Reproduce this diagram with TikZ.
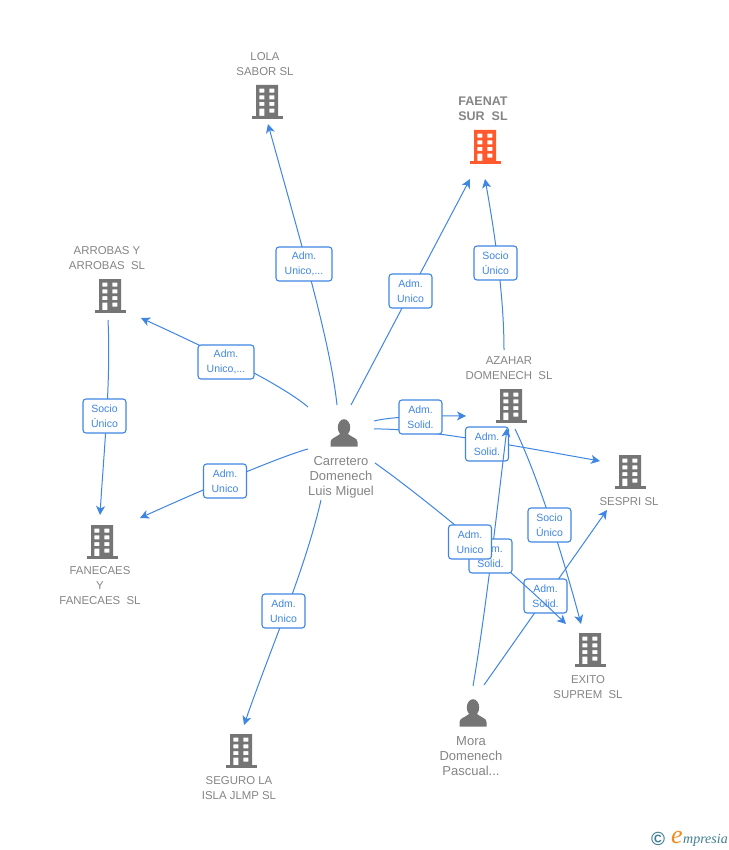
\documentclass[tikz,border=0pt]{standalone}
\usepackage{fontspec}
\setmainfont{Liberation Sans}
\newfontfamily\logofont{Liberation Serif}
\usetikzlibrary{arrows.meta,calc}
\definecolor{linkblue}{HTML}{3F86E3}
\definecolor{iconSlate}{HTML}{757575}
\definecolor{iconOrange}{HTML}{FF5A2D}
\definecolor{labelGray}{HTML}{858585}
\definecolor{logoTeal}{HTML}{3F7F93}
\definecolor{logoOrange}{HTML}{F08A1E}
\tikzset{
  link/.style={draw=linkblue,line width=1pt,-{Stealth[length=9pt,width=9pt,inset=2.5pt]}},
  tag/.style={draw=linkblue,line width=1.1pt,fill=white,rounded corners=3pt,minimum height=34pt,minimum width=43pt,inner sep=0pt,align=center,text=linkblue,font=\fontsize{10.5}{15}\selectfont},
  widetag/.style={tag,minimum width=56pt},
  iconspot/.style={inner sep=0pt,minimum width=31pt,minimum height=34pt},
  company/.style={align=center,text=labelGray,inner sep=0pt,font=\fontsize{11.4}{15}\selectfont},
  companybold/.style={align=center,text=labelGray,inner sep=0pt,font=\fontsize{12.5}{15}\selectfont\bfseries},
  personname/.style={align=center,text=labelGray,inner sep=0pt,font=\fontsize{13}{15}\selectfont},
  pics/bldicon/.style={code={
    \fill[#1,even odd rule]
      (-11,-17) rectangle (11,14)
      (-7.6,-13.3) rectangle (-2.6,-9.3) (2.4,-13.3) rectangle (7.4,-9.3)
      (-7.6,-6.7) rectangle (-2.6,-2.7) (2.4,-6.7) rectangle (7.4,-2.7)
      (-7.6,0) rectangle (-2.6,4) (2.4,0) rectangle (7.4,4)
      (-7.6,6.7) rectangle (-2.6,14) (2.4,6.7) rectangle (7.4,10.7);
    \fill[#1] (-15.5,14) rectangle (15.5,17);
  }},
  pics/personicon/.style={code={
    \fill[iconSlate] (0,-5.5) ellipse (6.2pt and 8.3pt);
    \fill[iconSlate] (-13.5,13.5) -- (-13.5,9) .. controls (-13.5,5) and (-8,4.5) .. (-4,1) -- (4,1)
      .. controls (8,4.5) and (13.5,5) .. (13.5,9) -- (13.5,13.5) -- cycle;
  }}
}
\begin{document}
\begin{tikzpicture}[x=1pt,y=-1pt]
\useasboundingbox (0,0) rectangle (728,850);
\fill[white] (0,0) rectangle (728,850);

% icon anchors
\node[iconspot] (lola) at (267,102) {};
\node[iconspot] (faenat) at (485,147) {};
\node[iconspot] (arrobas) at (110,296) {};
\node[iconspot] (azahar) at (511,406) {};
\node[iconspot] (sespri) at (630,472) {};
\node[iconspot] (fanecaes) at (102,542) {};
\node[iconspot] (exito) at (590,650) {};
\node[iconspot] (seguro) at (241,751) {};
\node[iconspot] (car) at (344,433) {};
\node[iconspot] (mora) at (473,713) {};

\pic at (lola) {bldicon=iconSlate};
\pic at (faenat) {bldicon=iconOrange};
\pic at (arrobas) {bldicon=iconSlate};
\pic at (azahar) {bldicon=iconSlate};
\pic at (sespri) {bldicon=iconSlate};
\pic at (fanecaes) {bldicon=iconSlate};
\pic at (exito) {bldicon=iconSlate};
\pic at (seguro) {bldicon=iconSlate};
\pic at (car) {personicon};
\pic at (mora) {personicon};

% labels
\node[company] (tlola) at (265,64) {LOLA\\SABOR SL};
\node[companybold] (tfaenat) at (483,108.5) {FAENAT\\SUR\ \ SL};
\node[company] (tarrobas) at (107,258.5) {ARROBAS Y\\ARROBAS\ \ SL};
\node[company] (tazahar) at (509,368) {AZAHAR\\DOMENECH\ \ SL};
\node[company] (tsespri) at (629,501.5) {SESPRI SL};
\node[company] (tfanecaes) at (100,586) {FANECAES\\Y\\FANECAES\ \ SL};
\node[company] (texito) at (588,687.5) {EXITO\\SUPREM\ \ SL};
\node[company] (tseguro) at (239,788.5) {SEGURO LA\\ISLA JLMP SL};
\node[personname] (tcar) at (341,477.5) {Carretero\\Domenech\\Luis Miguel};
\node[personname] (tmora) at (471,756) {Mora\\Domenech\\Pascual...};

% connectors below every box
\draw[link] ($(car)+(-7,-28)$) .. controls (330,340) and (300,240) .. ($(lola)+(1,22)$);
\draw[link] ($(car)+(7,-28)$) -- ($(faenat)+(-15,32)$);
\draw[link] ($(azahar)+(-7,-56)$) .. controls (504,300) and (496,240) .. ($(faenat)+(0,32)$);
\draw[link] ($(car)+(-36,-26)$) .. controls (280,383) and (200,345) .. ($(arrobas)+(31,22)$);
\draw[link] ($(arrobas)+(-2,24)$) .. controls (111,380) and (104,450) .. ($(fanecaes)+(-2,-27)$);
\draw[link] ($(car)+(-36,16)$) .. controls (285,455) and (215,484) .. ($(fanecaes)+(38,-24)$);
\draw[link] ($(car)+(-23,67)$) .. controls (305,570) and (270,650) .. ($(seguro)+(3,-26)$);
\draw[link] ($(car)+(30,-12)$) .. controls (390,417) and (420,415.7) .. ($(azahar)+(-45,10)$);
\draw[link] ($(car)+(30,-4)$) .. controls (420,428) and (510,445) .. ($(sespri)+(-30,-11)$);
\draw[link] ($(mora)+(11,-28)$) -- ($(sespri)+(-23,38)$);
\draw[link] ($(azahar)+(4,23)$) .. controls (535,470) and (560,545) .. ($(exito)+(-9,-26)$);

% boxes under the two upper connectors
\node[tag] (b6) at (487,444) {Adm.\\Solid.};
\node[tag] (b12) at (545.5,596) {Adm.\\Solid.};

% connectors that run over those boxes
\draw[link] ($(mora)+(0,-27)$) .. controls (486,610) and (497,510) .. ($(azahar)+(-4,22)$);
\draw[link] ($(car)+(31,30)$) .. controls (420,495) and (500,560) .. ($(exito)+(-24,-26)$);

% remaining boxes
\node[widetag] (b1) at (304,264) {Adm.\\Unico,...};
\node[tag] (b2) at (410.5,291) {Adm.\\Unico};
\node[tag] (b3) at (495.5,263) {Socio\\Único};
\node[widetag] (b4) at (226,362) {Adm.\\Unico,...};
\node[tag] (b5) at (420.5,417) {Adm.\\Solid.};
\node[tag] (b7) at (104.5,416) {Socio\\Único};
\node[tag] (b8) at (225,481) {Adm.\\Unico};
\node[tag] (b9) at (549.5,525) {Socio\\Único};
\node[tag] (b11) at (490.5,556) {Adm.\\Solid.};
\node[tag] (b10) at (470,542) {Adm.\\Unico};
\node[tag] (b13) at (283.5,611) {Adm.\\Unico};

% logo
\node[inner sep=0pt,text=logoTeal,font=\fontsize{19}{19}\selectfont\bfseries] (logoc) at (658,839) {©};
\node[inner sep=0pt,text=logoOrange,font=\logofont\itshape\fontsize{26}{26}\selectfont] (logoe) at (677,837) {e};
\node[inner sep=0pt,text=logoTeal,anchor=west,font=\logofont\itshape\fontsize{14}{14}\selectfont] (logot) at (683,840) {mpresia};
\end{tikzpicture}
\end{document}
